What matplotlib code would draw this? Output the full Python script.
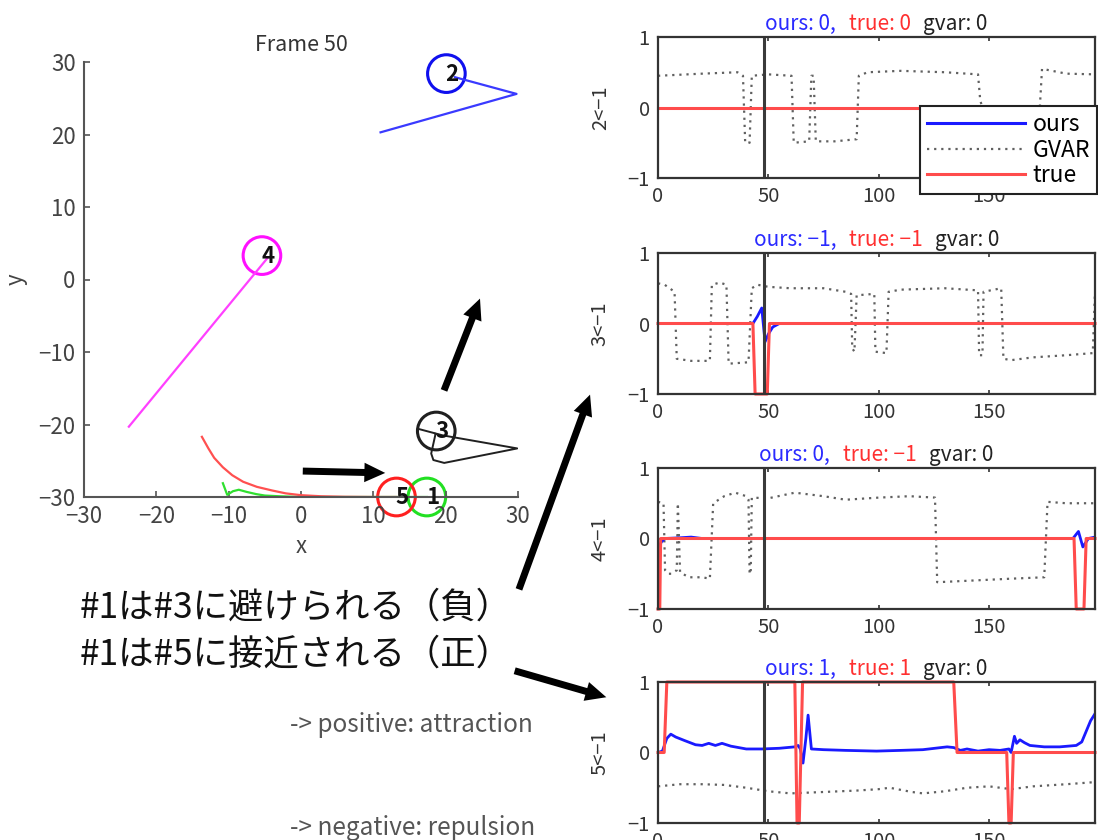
import matplotlib
matplotlib.use("Agg")
import matplotlib.pyplot as plt
from matplotlib.patches import Circle, FancyArrowPatch
from matplotlib.lines import Line2D
from matplotlib.offsetbox import TextArea, HPacker, AnchoredOffsetbox

plt.rcParams['font.family'] = ['Noto Sans CJK JP', 'DejaVu Sans']
plt.rcParams['axes.unicode_minus'] = True

# ---- left panel: trajectories at frame 50 ----
traj1_x = [-10.8, -10.2, -9.4, -8.6, -7.5, -6.2, -5.0, -3.0, 0.0, 5.0, 10.0, 17.4]
traj1_y = [-28.1, -29.7, -29.2, -29.0, -29.3, -29.6, -29.8, -29.9, -30.0, -30.0, -30.0, -30.0]
traj2_x = [11.0, 29.8, 21.3]
traj2_y = [20.3, 25.6, 27.9]
traj3_x = [16.2, 19.6, 29.9, 19.8, 18.3, 18.0, 18.6]
traj3_y = [-20.6, -21.5, -23.3, -25.3, -24.9, -24.0, -21.3]
traj4_x = [-23.8, -4.6]
traj4_y = [-20.3, 3.0]
traj5_x = [-13.7, -12.8, -12.0, -10.8, -9.5, -8.0, -6.1, -4.0, -2.1, 0.0, 2.8, 6.0, 10.0, 13.2]
traj5_y = [-21.7, -23.3, -24.6, -25.9, -27.0, -27.9, -28.6, -29.1, -29.5, -29.75, -29.9, -29.97, -30.0, -30.0]

agent_ids = ['1', '2', '3', '4', '5']
agent_x = [17.4, 20.1, 18.7, -5.4, 13.2]
agent_y = [-30.0, 28.4, -20.9, 3.3, -30.0]
agent_r = 2.6

# ---- right panels: influence on agent 1 over time ----
frame_now = 48
x_end = 198

ours2_x = [0, 198]
ours2_y = [0, 0]
true2_x = [0, 198]
true2_y = [0, 0]
gvar2_x = [0, 20, 36, 38.5, 39.5, 41.5, 42.5, 50, 60.5, 61.5, 68.5, 69.5, 70.5, 71.5, 80, 90, 91,
           95, 110, 130, 145, 146, 147, 173, 174, 177, 185, 198]
gvar2_y = [0.45, 0.48, 0.5, 0.45, -0.5, -0.5, 0.45, 0.47, 0.45, -0.5, -0.48, 0.45, 0.45, -0.48, -0.48, -0.45, 0.45,
           0.5, 0.52, 0.5, 0.47, 0.1, 0.0, 0.0, 0.55, 0.53, 0.48, 0.47]

ours3_x = [0, 43, 45, 47, 48.5, 50, 52, 55, 198]
ours3_y = [0, 0, 0.1, 0.22, -0.26, -0.15, -0.05, 0, 0]
true3_x = [0, 43, 44, 49.5, 50.5, 198]
true3_y = [0, 0, -1, -1, 0, 0]
gvar3_x = [0, 3, 7.5, 8.5, 15, 23.5, 24.4, 28, 31, 32, 41, 42.5, 45, 50, 60, 75, 85, 87.5, 88, 89, 90,
           98, 98.5, 103.5, 104.5, 110, 130, 145, 145.5, 147, 147.5, 155.5, 156.5, 160, 170, 185, 197, 198]
gvar3_y = [0.57, 0.55, 0.45, -0.5, -0.53, -0.53, 0.55, 0.58, 0.55, -0.57, -0.55, 0.5, 0.55, 0.52, 0.5, 0.5, 0.45,
           0.42, -0.35, -0.4, 0.4, 0.42, -0.4, -0.42, 0.45, 0.48, 0.5, 0.47, -0.45, -0.45, 0.45, 0.5, -0.5,
           -0.52, -0.48, -0.45, -0.42, 0.45]

ours4_x = [0, 1.5, 3, 10, 15, 20, 188, 190.5, 192.5, 195, 198]
ours4_y = [-0.15, -0.05, 0, 0.01, 0.02, 0, 0, 0.1, -0.12, 0.0, 0.02]
true4_x = [0, 0.8, 1.2, 188.5, 189.5, 193, 194, 198]
true4_y = [-1, -1, 0, 0, -1, -1, 0, 0]
gvar4_x = [0, 2.5, 3.2, 4.5, 6, 8.5, 9, 10, 14, 20, 23.5, 25, 30, 35, 40, 41, 41.5, 42, 42.5, 50, 62,
           75, 85, 100, 114, 125.5, 126.5, 140, 160, 175, 176.5, 185, 198]
gvar4_y = [0.52, 0.5, -0.45, -0.5, -0.5, -0.45, 0.5, -0.48, -0.55, -0.55, -0.57, 0.5, 0.6, 0.65, 0.6, 0.55,
           -0.5, -0.5, 0.58, 0.57, 0.65, 0.6, 0.55, 0.58, 0.6, 0.58, -0.62, -0.6, -0.57, -0.55, 0.52, 0.5, 0.5]

ours5_x = [0, 2, 4, 5.8, 8, 12, 17, 20, 23, 26, 29, 33, 40, 47, 55, 62, 63.5, 64.5, 65.7, 67, 68, 69.5,
           75, 85, 99, 110, 120, 131, 134, 137, 140, 145, 150, 155, 159, 160, 161.5, 162.5, 164, 166,
           168.5, 175, 182, 189.5, 192, 194, 196, 198]
ours5_y = [0, 0.02, 0.2, 0.26, 0.22, 0.17, 0.11, 0.1, 0.13, 0.1, 0.13, 0.09, 0.05, 0.05, 0.06, 0.08, 0.1,
           0.05, -0.15, 0.2, 0.53, 0.05, 0.04, 0.03, 0.02, 0.03, 0.04, 0.08, 0.07, 0.03, 0.05, 0.02, 0.04,
           0.03, 0.05, 0.0, 0.23, 0.13, 0.18, 0.14, 0.1, 0.08, 0.08, 0.1, 0.15, 0.3, 0.45, 0.55]
true5_x = [0, 2.8, 4, 62, 63, 64, 65.5, 134, 135.5, 158, 159, 160, 161, 198]
true5_y = [0, 0, 1, 1, -1, -1, 1, 1, 0, 0, -1, -1, 0, 0]
gvar5_x = [0, 10, 20, 30, 40, 50, 60, 75, 90, 100, 105, 115, 120, 130, 140, 150, 160, 170, 185, 198]
gvar5_y = [-0.48, -0.45, -0.45, -0.46, -0.5, -0.55, -0.58, -0.56, -0.54, -0.52, -0.5, -0.56, -0.58,
           -0.55, -0.5, -0.48, -0.52, -0.48, -0.45, -0.42]

panel_labels = ['2<−1', '3<−1', '4<−1', '5<−1']
title_ours = ['ours: 0,', 'ours: −1,', 'ours: 0,', 'ours: 1,']
title_true = ['true: 0', 'true: −1', 'true: −1', 'true: 1']
title_gvar = ['gvar: 0', 'gvar: 0', 'gvar: 0', 'gvar: 0']

note_lines = ['#1は#3に避けられる（負）', '#1は#5に接近される（正）']
note_pos = '-> positive: attraction'
note_neg = '-> negative: repulsion'

W, H = 1098, 840
fig = plt.figure(figsize=(W / 100, H / 100), dpi=100)


def box(l, t, r, b):
    return [l / W, 1 - b / H, (r - l) / W, (b - t) / H]


# left trajectory plot
ax = fig.add_axes(box(84, 62, 518, 497))
ax.plot(traj4_x, traj4_y, color='#ff40ff', lw=1.6)
ax.plot(traj2_x, traj2_y, color='#3a3aff', lw=1.6)
ax.plot(traj3_x, traj3_y, color='#202020', lw=1.4)
ax.plot(traj1_x, traj1_y, color='#30e030', lw=1.6)
ax.plot(traj5_x, traj5_y, color='#ff5050', lw=1.6)
circle_colors = ['#22e022', '#1010ee', '#202020', '#ff10ff', '#ff2020']
for aid, cx, cy, cc in zip(agent_ids, agent_x, agent_y, circle_colors):
    ax.add_patch(Circle((cx, cy), agent_r, fill=False, ec=cc, lw=2.2, clip_on=False))
    ax.text(cx + 0.8, cy - 0.1, aid, ha='center', va='center', fontsize=16,
            fontweight='bold', color='#111111')
ax.set_xlim(-30, 30)
ax.set_ylim(-30, 30)
ax.set_xticks([-30, -20, -10, 0, 10, 20, 30])
ax.set_yticks([-30, -20, -10, 0, 10, 20, 30])
for s in ['top', 'right']:
    ax.spines[s].set_visible(False)
for s in ['left', 'bottom']:
    ax.spines[s].set_color('#555555')
    ax.spines[s].set_linewidth(1.5)
ax.tick_params(direction='in', length=4, width=1.2, color='#555555', labelsize=16,
               labelcolor='#444444', pad=6)
ax.set_xlabel('x', fontsize=16, color='#444444', labelpad=5)
ax.set_ylabel('y', fontsize=16, color='#444444', labelpad=8)
ax.set_title('Frame 50', fontsize=15.5, color='#333333', pad=8)

# right panels
panels = [
    (ours2_x, ours2_y, true2_x, true2_y, gvar2_x, gvar2_y),
    (ours3_x, ours3_y, true3_x, true3_y, gvar3_x, gvar3_y),
    (ours4_x, ours4_y, true4_x, true4_y, gvar4_x, gvar4_y),
    (ours5_x, ours5_y, true5_x, true5_y, gvar5_x, gvar5_y),
]
tops = [37, 253, 468, 682]
red = '#ff4c4c'
blue = '#1a1aff'
for i, (ox, oy, tx, ty, gx, gy) in enumerate(panels):
    a = fig.add_axes(box(658, tops[i], 1095, tops[i] + 141))
    a.plot(gx, gy, color='#606060', lw=1.6, ls=(0, (1, 2.2)))
    a.plot(ox, oy, color=blue, lw=2.0)
    a.plot(tx, ty, color=red, lw=2.2, clip_on=False)
    a.axvline(frame_now, color='#3a3a3a', lw=2.2)
    a.set_xlim(0, x_end)
    a.set_ylim(-1, 1)
    a.set_xticks([0, 50, 100, 150])
    a.set_yticks([-1, 0, 1])
    a.tick_params(direction='in', length=3, width=1.2, top=True, right=True,
                  labelsize=14.5, labelcolor='#333333', color='#333333', pad=6)
    for s in a.spines.values():
        s.set_color('#333333')
        s.set_linewidth(1.6)
    a.set_ylabel(panel_labels[i], fontsize=14.5, color='#333333', labelpad=12)
    parts = [TextArea(title_ours[i], textprops=dict(color='#2a2aff', fontsize=15)),
             TextArea(title_true[i], textprops=dict(color='#ff3030', fontsize=15)),
             TextArea(title_gvar[i], textprops=dict(color='#222222', fontsize=15))]
    hp = HPacker(children=parts, align='baseline', pad=0, sep=9)
    anch = AnchoredOffsetbox(loc='lower center', child=hp, pad=0, borderpad=0, frameon=False,
                             bbox_to_anchor=(0.5, 1.015), bbox_transform=a.transAxes)
    a.add_artist(anch)

handles = [Line2D([], [], color=blue, lw=2.2),
           Line2D([], [], color='#606060', lw=1.6, ls=(0, (1, 2.2))),
           Line2D([], [], color=red, lw=2.2)]
leg = fig.legend(handles, ['ours', 'GVAR', 'true'], loc='upper left',
                 bbox_to_anchor=(920 / W, 1 - 106 / H), frameon=True, fancybox=False,
                 edgecolor='#222222', framealpha=1, fontsize=16.5, handlelength=4.3,
                 borderaxespad=0, borderpad=0.3, labelspacing=0.12, handletextpad=0.3)
leg.get_frame().set_linewidth(1.5)

# annotations
for i, line in enumerate(note_lines):
    fig.text(80 / W, 1 - (608 + 47 * i) / H, line, fontsize=25.5, ha='left', va='center', color='#111111')
fig.text(290 / W, 1 - 725 / H, note_pos, fontsize=17.5, ha='left', va='center', color='#555555')
fig.text(290 / W, 1 - 828 / H, note_neg, fontsize=17.5, ha='left', va='center', color='#555555')

arrows = [((300, 471), (388, 473)), ((443, 393), (481, 296)),
          ((518, 592), (591, 392)), ((512, 670), (609, 698))]
for (x0, y0), (x1, y1) in arrows:
    fig.add_artist(FancyArrowPatch((x0 / W, 1 - y0 / H), (x1 / W, 1 - y1 / H),
                                   transform=fig.transFigure,
                                   arrowstyle='simple,head_length=1.5,head_width=1.4,tail_width=0.5',
                                   mutation_scale=10, color='black', lw=0))

fig.savefig('out.png', dpi=100)
